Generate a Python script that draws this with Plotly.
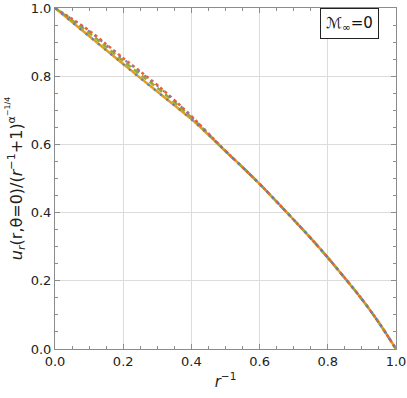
import plotly.graph_objects as go

x_vals = [0.0, 0.05, 0.1, 0.15, 0.2, 0.25, 0.3, 0.35, 0.4, 0.45, 0.5, 0.55, 0.6, 0.65, 0.7, 0.75, 0.8, 0.85, 0.9, 0.95, 1.0]

lower_orange = [1.0, 0.959, 0.918, 0.877, 0.836, 0.795, 0.755, 0.715, 0.674, 0.628, 0.580, 0.533, 0.484, 0.432, 0.379, 0.325, 0.268, 0.208, 0.146, 0.077, 0.0]
lower_blue   = [1.0, 0.958, 0.917, 0.876, 0.835, 0.794, 0.754, 0.714, 0.673, 0.628, 0.580, 0.533, 0.484, 0.432, 0.379, 0.325, 0.268, 0.208, 0.146, 0.077, 0.0]
upper_green  = [1.0, 0.964, 0.927, 0.886, 0.845, 0.805, 0.766, 0.724, 0.679, 0.630, 0.580, 0.533, 0.484, 0.432, 0.379, 0.325, 0.268, 0.208, 0.146, 0.077, 0.0]
upper_red    = [1.0, 0.968, 0.934, 0.894, 0.853, 0.814, 0.774, 0.730, 0.683, 0.632, 0.581, 0.533, 0.484, 0.432, 0.379, 0.325, 0.268, 0.208, 0.146, 0.077, 0.0]
upper_purple = [1.0, 0.967, 0.932, 0.892, 0.851, 0.812, 0.772, 0.729, 0.682, 0.631, 0.581, 0.533, 0.484, 0.432, 0.379, 0.325, 0.268, 0.208, 0.146, 0.077, 0.0]

tick_vals = [0.0, 0.2, 0.4, 0.6, 0.8, 1.0]
tick_text = ["0.0", "0.2", "0.4", "0.6", "0.8", "1.0"]

series = [
    (lower_orange, "#E19C24", "solid", 2.5),
    (upper_green, "#8FB032", "6px,4px", 2.5),
    (upper_red, "#EB6235", "3px,3px", 2.5),
    (upper_purple, "#8778B3", "2px,6px", 2.2),
    (lower_blue, "#5E81B5", "2px,6px", 2.2),
]

fig = go.Figure()
for ys, col, dash, w in series:
    fig.add_trace(go.Scatter(x=x_vals, y=ys, mode="lines", line=dict(color=col, width=w, dash=dash, shape="spline"),
                             showlegend=False, hoverinfo="skip"))

axis_common = dict(
    range=[0, 1], showgrid=True, gridcolor="#dcdcdc", gridwidth=1,
    showline=True, linecolor="#8c8c8c", linewidth=1, mirror="allticks",
    ticks="inside", ticklen=5, tickcolor="#8c8c8c", tickwidth=1,
    tickvals=tick_vals, ticktext=tick_text, zeroline=False, automargin=False,
    tickfont=dict(family="DejaVu Sans", size=13, color="#222"),
    minor=dict(dtick=0.05, ticks="inside", ticklen=3, tickcolor="#8c8c8c", showgrid=False),
)

fig.update_xaxes(**axis_common, title=dict(text="<i>r</i><sup>−1</sup>", font=dict(family="DejaVu Sans", size=15, color="#222"), standoff=8))
fig.update_yaxes(**axis_common, title=dict(text="<i>u</i><sub><i>r</i></sub>(r,θ=0)/(<i>r</i><sup>−1</sup>+1)<sup>α<sup>−1/4</sup></sup>",
                                           font=dict(family="DejaVu Sans", size=16, color="#222"), standoff=4))

fig.add_annotation(x=0.865, y=0.955, xref="paper", yref="paper", xanchor="center", yanchor="middle",
                   text="ℳ<sub>∞</sub>=0", showarrow=False,
                   font=dict(family="DejaVu Sans", size=15, color="#111"),
                   bordercolor="#222", borderwidth=1, borderpad=5, bgcolor="white")

fig.update_layout(width=407, height=398, margin=dict(l=55, r=11, t=8, b=49),
                  plot_bgcolor="white", paper_bgcolor="white")

fig.write_html("out.html", config={"displayModeBar": False},
               post_script="document.body.style.margin='0';document.body.style.overflow='hidden';")
